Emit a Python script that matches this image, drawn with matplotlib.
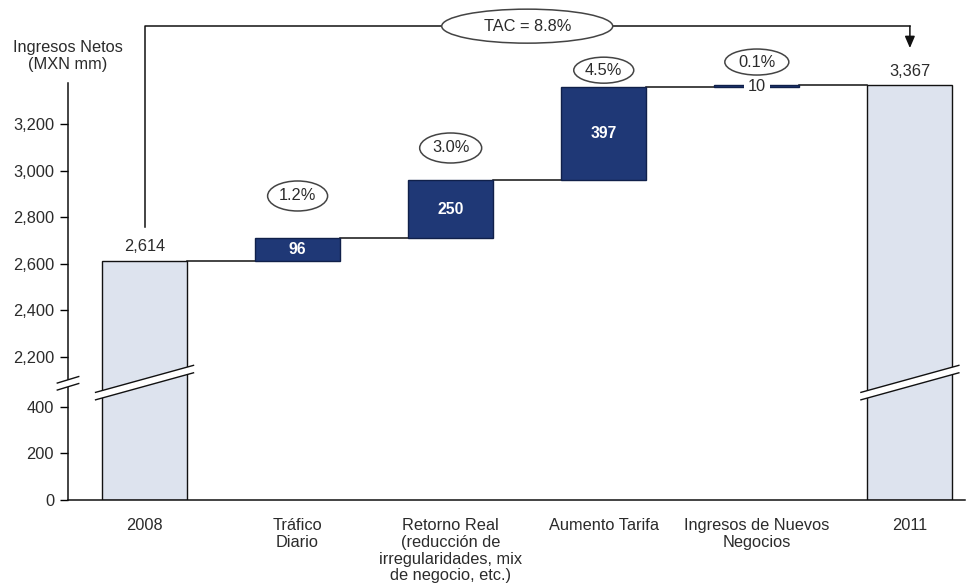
import numpy as np
import matplotlib
matplotlib.use('Agg')
import matplotlib.pyplot as plt
from matplotlib.patches import Ellipse, Polygon

plt.rcParams['font.family'] = ['Liberation Sans', 'DejaVu Sans']

# waterfall data (MXN mm)
categories = ['2008', 'Tráfico\nDiario',
              'Retorno Real\n(reducción de\nirregularidades, mix\nde negocio, etc.)',
              'Aumento Tarifa', 'Ingresos de Nuevos\nNegocios', '2011']
values = [2614, 96, 250, 397, 10, 3367]
growth = ['1.2%', '3.0%', '4.5%', '0.1%']
tac_label = 'TAC = 8.8%'
y_ticks = [0, 200, 400, 2200, 2400, 2600, 2800, 3000, 3200]

NAVY = '#1f3876'
LIGHT = '#dde3ee'
TXT = '#2b2b2b'
FS = 11.8

# broken axis: keep 0-590 as is, squeeze 590-2190, shift the rest down
LO, HI, OFF = 590.0, 2190.0, 1586.0
K = (HI - OFF - LO) / (HI - LO)


def fwd(v):
    v = np.asarray(v, dtype=float)
    return np.where(v <= LO, v, np.where(v >= HI, v - OFF, LO + (v - LO) * K))


def inv(d):
    d = np.asarray(d, dtype=float)
    return np.where(d <= LO, d, np.where(d >= HI - OFF, d + OFF, LO + (d - LO) / K))


fig = plt.figure(figsize=(9.74, 5.87), dpi=100)
ax = fig.add_axes([68 / 974, 87 / 587, 897 / 974, 417 / 587])
ax.set_yscale('function', functions=(fwd, inv))
ax.set_xlim(-0.5, 5.36)
ax.set_ylim(0, 3376)

x = np.arange(len(values))
# running total for the floating bars
run = values[0]
bottoms = [0]
for v in values[1:-1]:
    bottoms.append(run)
    run += v
bottoms.append(0)
colors = [LIGHT] + [NAVY] * (len(values) - 2) + [LIGHT]
W = 0.556
ax.bar(x, values, bottom=bottoms, width=W, color=colors,
       edgecolor=['#111111'] + ['#10204a'] * 4 + ['#111111'], linewidth=1.0, zorder=2)

# connectors between steps
tops = [b + v for b, v in zip(bottoms, values)]
for i in range(len(values) - 1):
    ax.plot([x[i] + W / 2, x[i + 1] - W / 2], [tops[i], tops[i]],
            color='#111111', lw=1.1, zorder=1)

# px -> data size helpers
px_x = 897 / 5.86
px_y = 417 / (fwd(3376) - fwd(0))

# totals above end bars
for i in (0, len(values) - 1):
    ax.annotate(f'{values[i]:,}', (x[i], values[i]), xytext=(0, 10),
                textcoords='offset points', ha='center', va='center',
                fontsize=FS, color=TXT)

# step values
for i in range(1, len(values) - 1):
    mid = bottoms[i] + values[i] / 2
    if values[i] > 50:
        ax.text(x[i], mid, f'{values[i]:,}', ha='center', va='center',
                fontsize=FS - 0.5, color='white', fontweight='bold', zorder=4)
    else:
        ax.text(x[i], mid, f'{values[i]:,}', ha='center', va='center',
                fontsize=FS, color=TXT, zorder=4,
                bbox=dict(boxstyle='square,pad=0.25', fc='white', ec='none'))

# growth ellipses
ell_y = [2891, 3097, 3431, 3466]
ell_wh = [(60, 30), (62, 30), (60, 26), (64, 26)]
for i, (lab, yy, (w, h)) in enumerate(zip(growth, ell_y, ell_wh)):
    xi = x[i + 1]
    ax.add_patch(Ellipse((xi, yy), w / px_x, h / px_y, fc='white', ec='#444444',
                         lw=1.1, zorder=5, clip_on=False))
    ax.text(xi, yy, lab, ha='center', va='center', fontsize=FS, color=TXT,
            zorder=6, clip_on=False)

# TAC bracket
tac_y = 3620
ax.plot([x[0], x[0], x[-1]], [2758, tac_y, tac_y], color='#111111', lw=1.1,
        clip_on=False, zorder=3)
ax.annotate('', xy=(x[-1], 3526), xytext=(x[-1], tac_y),
            arrowprops=dict(arrowstyle='-|>,head_length=0.7,head_width=0.3',
                            color='#111111', lw=1.1, shrinkA=0, shrinkB=0),
            annotation_clip=False)
tac_x = (x[0] + x[-1]) / 2
ax.add_patch(Ellipse((tac_x, tac_y), 171 / px_x, 34 / px_y, fc='white',
                     ec='#444444', lw=1.1, zorder=5, clip_on=False))
ax.text(tac_x, tac_y, tac_label, ha='center', va='center', fontsize=FS,
        color=TXT, zorder=6, clip_on=False)

# break bands across the end bars
for i in (0, len(values) - 1):
    xl, xr = x[i] - 0.32, x[i] + 0.32
    dl, dr, hh = 446, 562, 16
    ax.add_patch(Polygon([(xl, dl - hh), (xr, dr - hh), (xr, dr + hh), (xl, dl + hh)],
                         closed=True, fc='white', ec='none', zorder=3))
    for s in (-hh, hh):
        ax.plot([xl, xr], [dl + s, dr + s], color='#111111', lw=1.0, zorder=3)

# break marks on the y axis
bx = 0.07
ax.add_patch(Polygon([(-0.5 - bx, 472), (-0.5 + bx, 500), (-0.5 + bx, 530), (-0.5 - bx, 502)],
                     closed=True, fc='white', ec='none', zorder=5, clip_on=False))
for y0, y1 in ((472, 500), (502, 530)):
    ax.plot([-0.5 - bx, -0.5 + bx], [y0, y1], color='#111111', lw=1.0,
            zorder=6, clip_on=False)

# axes styling
ax.spines['top'].set_visible(False)
ax.spines['right'].set_visible(False)
for s in ('left', 'bottom'):
    ax.spines[s].set_color('#111111')
    ax.spines[s].set_linewidth(1.1)
ax.set_yticks(y_ticks)
ax.set_yticklabels([f'{t:,}' for t in y_ticks])
ax.minorticks_off()
ax.tick_params(axis='y', length=6, width=1.0, pad=4, labelsize=FS, labelcolor=TXT)
ax.set_xticks(x)
ax.set_xticklabels(categories, linespacing=1.15)
ax.tick_params(axis='x', length=0, pad=13, labelsize=FS, labelcolor=TXT)

ax.text(0, 1.065, 'Ingresos Netos\n(MXN mm)', transform=ax.transAxes,
        ha='center', va='center', fontsize=FS, color=TXT, linespacing=1.2)

fig.savefig('out.png', dpi=100)
